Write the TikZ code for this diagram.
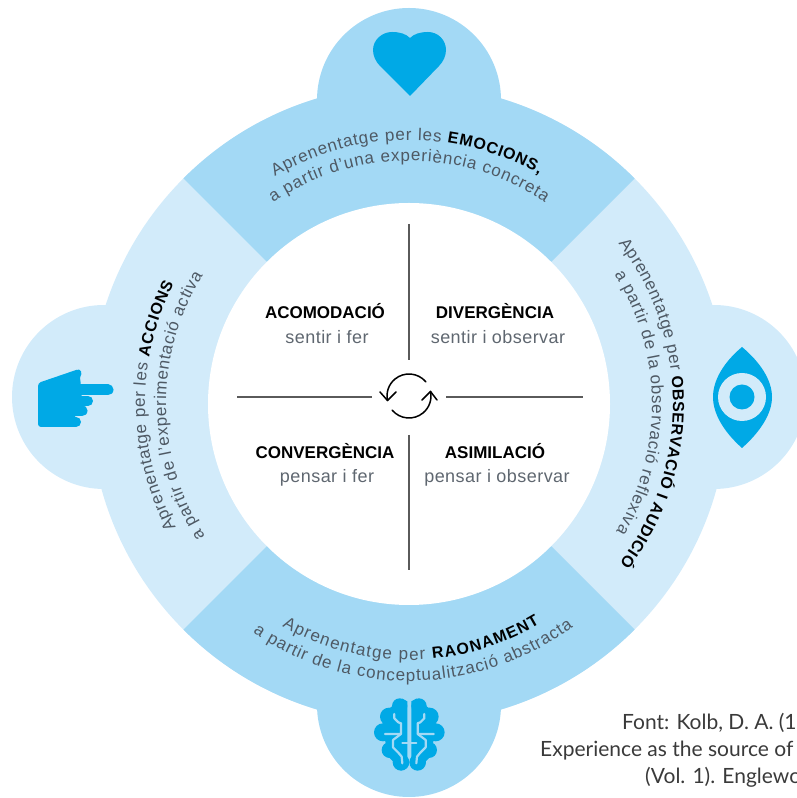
\documentclass[tikz,border=0pt]{standalone}
\usepackage{fontspec}
\setmainfont{Liberation Sans}
\newfontfamily\subf[LetterSpace=2.5]{Liberation Sans}
\newfontfamily\capf{Lato}
\usetikzlibrary{decorations.text}
\definecolor{dark}{HTML}{A3D9F5}
\definecolor{lite}{HTML}{D2EBFA}
\definecolor{icon}{HTML}{00A9E6}
\definecolor{tg}{HTML}{4E5964}
\definecolor{subg}{HTML}{5F6770}
\definecolor{rule}{HTML}{5A5A5A}
\definecolor{capg}{HTML}{3A3A3A}
\newcommand{\arctext}[4]{% radius, start, end, text
  \path[decorate,decoration={text along path,text={#4},text align={fit to path}}]
    ([shift={(#2:#1)}]c) arc[start angle=#2,end angle=#3,radius=#1];}
\newcommand{\rgf}{\fontsize{17}{20}\selectfont\color{tg}}
\newcommand{\bdf}{\fontsize{16}{18}\selectfont\bfseries\color{black}}
\tikzset{
  headlbl/.style={font=\bfseries\fontsize{17}{20}\selectfont,text=black,anchor=base,inner sep=0pt},
  sublbl/.style={font=\subf\fontsize{18}{20}\selectfont,text=subg,anchor=base,inner sep=0pt},
  rulebar/.style={draw=rule,line width=1.4pt},
  cyc/.style={draw=black,line width=1.5pt,line cap=round,line join=round},
  srclbl/.style={font=\capf\fontsize{21}{24}\selectfont,text=capg,anchor=base west,inner sep=0pt},
  fing/.style={draw=icon,line cap=round},
  sulc/.style={draw=dark,line width=2.2pt,line cap=round,line join=round}
}
\begin{document}
\begin{tikzpicture}[x=1pt,y=1pt]
\useasboundingbox (0,0) rectangle (797,798);
\clip (0,0) rectangle (797,798);
\coordinate (c) at (409,394);
\coordinate (cy) at (409,402);
% ring and bumps
\fill[lite] (c) circle[radius=319];
\fill[lite] (104,401) circle[radius=92];
\fill[lite] (714,401) circle[radius=92];
\fill[dark] (c) -- ([shift={(45:319)}]c) arc[start angle=45,end angle=135,radius=319] -- cycle;
\fill[dark] (c) -- ([shift={(225:319)}]c) arc[start angle=225,end angle=315,radius=319] -- cycle;
\fill[dark] (409,698) circle[radius=92];
\fill[dark] (409,93) circle[radius=92];
\fill[white] (c) circle[radius=201];
% rules
\coordinate (vt1) at (409,574); \coordinate (vt2) at (409,438);
\coordinate (vb1) at (409,363); \coordinate (vb2) at (409,228);
\coordinate (hl1) at (237,401); \coordinate (hl2) at (372,401);
\coordinate (hr1) at (446,401); \coordinate (hr2) at (583,401);
\draw[rulebar] (vt1) -- (vt2);
\draw[rulebar] (vb1) -- (vb2);
\draw[rulebar] (hl1) -- (hl2);
\draw[rulebar] (hr1) -- (hr2);
% cycle icon
\draw[cyc] ([shift={(40:22)}]cy) arc[start angle=40,end angle=192,radius=22];
\draw[cyc] (380,406) -- (387.5,397.5) -- (396,406);
\draw[cyc] ([shift={(220:22)}]cy) arc[start angle=220,end angle=372,radius=22];
\draw[cyc] (422,398) -- (430.5,406.5) -- (437,398);
% quadrant labels
\node[headlbl] (aco) at (325,479) {ACOMODACIÓ};
\node[sublbl] (acos) at (327,454) {sentir i fer};
\node[headlbl] (div) at (495,479) {DIVERGÈNCIA};
\node[sublbl] (divs) at (498,454) {sentir i observar};
\node[headlbl] (con) at (325,339) {CONVERGÈNCIA};
\node[sublbl] (cons) at (327,315) {pensar i fer};
\node[headlbl] (asi) at (495,339) {ASIMILACIÓ};
\node[sublbl] (asis) at (497,315) {pensar i observar};
% curved texts
\arctext{264}{120.5}{60.5}{|\rgf|Aprenentatge per les |\bdf|EMOCIONS,}
\arctext{243}{124}{56}{|\rgf|a partir d'una experiència concreta}
\arctext{264}{37.5}{-37}{|\rgf|Aprenentatge per |\bdf|OBSERVACIÓ I AUDICIÓ}
\arctext{243}{32.3}{-31.5}{|\rgf|a partir de la observació reflexiva}
\arctext{264}{208}{153}{|\rgf|Aprenentatge per les |\bdf|ACCIONS}
\arctext{243}{213}{148}{|\rgf|a partir de l'experimentació activa}
\arctext{256}{240.3}{300.7}{|\rgf|Aprenentatge per |\bdf|RAONAMENT}
\arctext{277}{235.7}{306.3}{|\rgf|a partir de la conceptualització abstracta}
% heart
\fill[icon] (410,702) -- (380,732) .. controls (376,736) and (373,742) .. (373,748)
  .. controls (373,758) and (382,766) .. (392,766) .. controls (400,766) and (406,764) .. (410,760)
  .. controls (414,764) and (420,766) .. (428,766) .. controls (438,766) and (446,758) .. (446,748)
  .. controls (446,742) and (443,736) .. (439,732) -- cycle;
% eye
\fill[icon] (742,451) .. controls (760,436) and (772,418) .. (772,401)
  .. controls (772,384) and (760,366) .. (742,350)
  .. controls (724,366) and (713,384) .. (713,401)
  .. controls (713,418) and (724,436) .. (742,451) -- cycle;
\fill[lite] (742,401) circle[radius=24];
\fill[icon] (742,401) circle[radius=12.5];
% hand
\fill[icon,rounded corners=3pt] (38,415) -- (79,429) -- (81,412) -- (82,395) -- (70,371) -- (38,371) -- cycle;
\draw[fing,line width=11pt] (76,408) -- (108,408);
\draw[fing,line width=10pt] (76,397) -- (88,397);
\draw[fing,line width=11pt] (72,387) -- (82,387);
\draw[fing,line width=10pt] (68,376) -- (76,376);
\draw[fing,line width=7pt] (74,414) -- (78,425);
% brain
\begin{scope}[shift={(365,108)},x=0.3333pt,y=-0.3333pt]
  \foreach \mx/\sx in {0/1,266/-1}{
    \begin{scope}[shift={(\mx,0)},xscale=\sx]
      \fill[icon] (104,48) circle[radius=23];
      \fill[icon] (72,80) circle[radius=27];
      \fill[icon] (54,127) circle[radius=27];
      \fill[icon] (74,180) circle[radius=24];
      \fill[icon] (108,217) circle[radius=25];
      \fill[icon] (112,26) -- (127,34) -- (127,232) -- (110,241) -- (70,200) -- (60,150) -- (50,110) -- (72,56) -- cycle;
      \draw[sulc] (88,72) -- (88,85) -- (100,97) -- (108,100) -- (108,132) -- (60,132);
      \draw[sulc] (108,132) -- (84,150) -- (84,172) -- (100,188) -- (110,200) -- (112,220);
    \end{scope}
  }
  \draw[sulc] (112,158) -- (154,158);
\end{scope}
% source
\node[srclbl] (s1) at (622,68) {Font: Kolb, D. A. (1};
\node[srclbl] (s2) at (540,41) {Experience as the source of};
\node[srclbl] (s3) at (645,14) {(Vol. 1). Englewo};
\end{tikzpicture}
\end{document}
